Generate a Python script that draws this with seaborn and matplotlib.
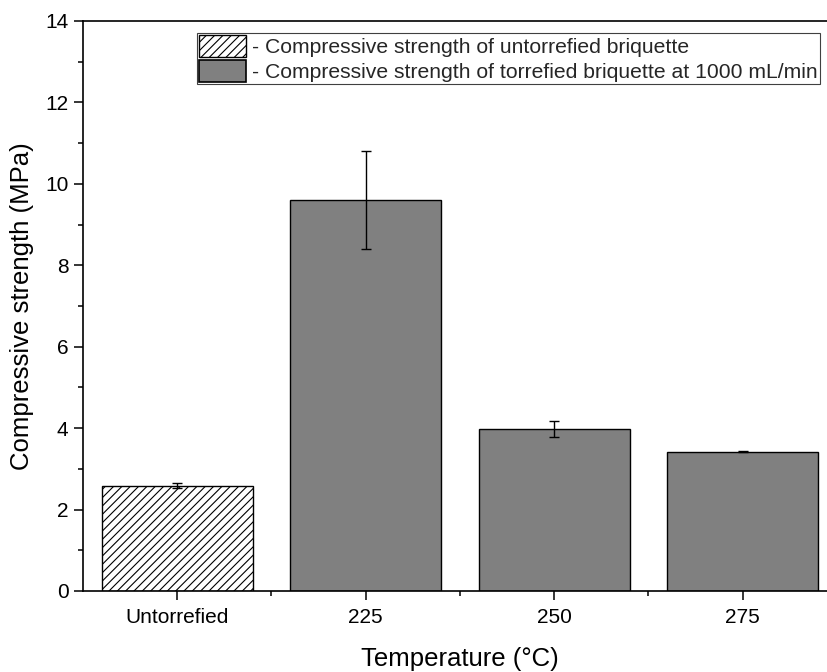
import matplotlib
matplotlib.use("Agg")
import matplotlib.pyplot as plt
import seaborn as sns
import pandas as pd
from matplotlib.patches import Patch
from matplotlib.ticker import MultipleLocator, FixedLocator

categories = ["Untorrefied", "225", "250", "275"]
strength = [2.59, 9.61, 3.98, 3.42]
strength_sd = [0.06, 1.20, 0.19, 0.01]
legend_labels = ["- Compressive strength of untorrefied briquette",
                 "- Compressive strength of torrefied briquette at 1000 mL/min"]

sns.set_theme(style="ticks")
plt.rcParams['font.family'] = ['Liberation Sans', 'DejaVu Sans']
plt.rcParams['hatch.linewidth'] = 0.8

df = pd.DataFrame({"Temperature": categories, "Strength": strength})

fig = plt.figure(figsize=(8.28, 6.72), dpi=100)
ax = fig.add_axes([83/828, 1 - 591/672, (837-83)/828, (591-21)/672])

sns.barplot(data=df, x="Temperature", y="Strength", color="#808080",
            saturation=1, width=0.8, edgecolor="black", linewidth=1.0,
            errorbar=None, ax=ax)
bars = ax.patches
bars[0].set_facecolor("white")
bars[0].set_hatch("////")
bars[0].set_edgecolor("black")

ax.errorbar(range(len(categories)), strength, yerr=strength_sd, fmt="none",
            ecolor="black", elinewidth=1.0, capsize=3.6, capthick=1.0, zorder=5)

ax.set_xlim(-0.5, 3.5)
ax.set_ylim(0, 14)
ax.yaxis.set_major_locator(MultipleLocator(2))
ax.yaxis.set_minor_locator(MultipleLocator(1))
ax.xaxis.set_minor_locator(FixedLocator([0.5, 1.5, 2.5]))

for s in ["left", "bottom", "top", "right"]:
    ax.spines[s].set_visible(True)
    ax.spines[s].set_linewidth(1.2)
    ax.spines[s].set_color("black")

ax.tick_params(axis="both", which="major", direction="out", length=6.5, width=1.1,
               labelsize=15, colors="black", pad=4)
ax.tick_params(axis="x", which="major", pad=6)
ax.tick_params(axis="both", which="minor", direction="out", length=3.5, width=1.1,
               colors="black")
ax.tick_params(axis="x", which="both", top=False)
ax.tick_params(axis="y", which="both", right=False)

ax.set_xlabel("Temperature (°C)", fontsize=18.5, labelpad=14, color="black")
ax.set_ylabel("Compressive strength (MPa)", fontsize=18.5, labelpad=8, color="black")

handles = [Patch(facecolor="white", edgecolor="black", hatch="////", linewidth=1.0),
           Patch(facecolor="#808080", edgecolor="black", linewidth=1.2)]
leg = ax.legend(handles, legend_labels, loc="upper right",
                bbox_to_anchor=(0.977, 0.979), borderaxespad=0,
                fontsize=15.2, handlelength=2.2, handleheight=1.2,
                handletextpad=0.3, labelspacing=0.15, borderpad=0.1,
                fancybox=False, framealpha=1, edgecolor="#404040")
leg.get_frame().set_linewidth(0.8)

fig.savefig("out.png", dpi=100)
